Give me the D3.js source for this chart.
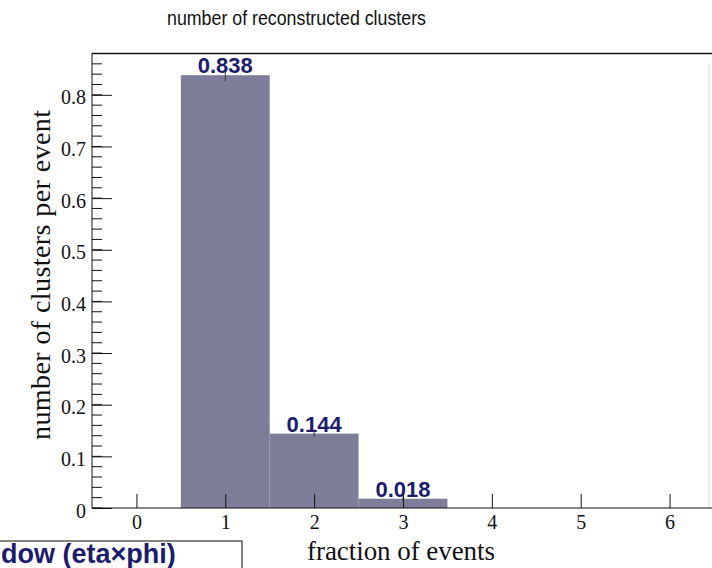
<!DOCTYPE html>
<html lang="en">

<head>
    <meta charset="UTF-8">
    <title>number of reconstructed clusters</title>
    <script src="https://d3js.org/d3.v7.min.js"></script>
    <style>
        body { margin: 0; background: #fff; }
        svg { display: block; }
        .tick text { font-family: "Liberation Serif", "DejaVu Serif", serif; font-size: 20px; fill: #111; }
        .axis path, .axis line { stroke: #111; }
    </style>
</head>

<body>
    <div id="myGraph"></div>

    <script type="text/javascript">

        // bin centers and fraction values
        let bins = [1, 2, 3];
        let values = [0.838, 0.144, 0.018];
        let errors = [0.012, 0.006, 0.004];
        let labels = ["0.838", "0.144", "0.018"];
        let xTicks = [0, 1, 2, 3, 4, 5, 6];
        let yTicks = [0, 0.1, 0.2, 0.3, 0.4, 0.5, 0.6, 0.7, 0.8];

        let width = 712, height = 568;
        let padLeft = 92, padRight = 714, padTop = 53.5, padBottom = 508;

        let svg = d3.select("#myGraph").append("svg")
            .attr("width", width)
            .attr("height", height);

        let x = d3.scaleLinear().domain([-0.5, 6.5]).range([padLeft, padRight]);
        let y = d3.scaleLinear().domain([0, 0.88]).range([padBottom, padTop]);

        // title
        svg.append("text")
            .attr("x", 167).attr("y", 25)
            .attr("textLength", 259)
            .attr("lengthAdjust", "spacingAndGlyphs")
            .style("font-family", "'Liberation Sans', Arial, sans-serif")
            .style("font-size", "20px")
            .style("fill", "#111")
            .text("number of reconstructed clusters");

        // bars
        svg.selectAll("rect.bar")
            .data(values)
            .enter()
            .append("rect")
            .attr("class", "bar")
            .attr("x", (d, i) => x(bins[i] - 0.5))
            .attr("width", (d, i) => x(bins[i] + 0.5) - x(bins[i] - 0.5))
            .attr("y", d => y(d))
            .attr("height", d => padBottom - y(d))
            .style("fill", "#7e7e9b");

        // small error marks
        svg.selectAll("line.err")
            .data(values)
            .enter()
            .append("line")
            .attr("class", "err")
            .attr("x1", (d, i) => x(bins[i]))
            .attr("x2", (d, i) => x(bins[i]))
            .attr("y1", (d, i) => y(d + errors[i]))
            .attr("y2", (d, i) => y(d - errors[i]))
            .style("stroke", "#333")
            .style("stroke-width", 1);

        // frame top + right
        svg.append("line")
            .attr("x1", padLeft).attr("x2", width)
            .attr("y1", padTop).attr("y2", padTop)
            .style("stroke", "#111").style("stroke-width", 1.5);
        svg.append("line")
            .attr("x1", 709).attr("x2", 709)
            .attr("y1", padTop + 10).attr("y2", padBottom)
            .style("stroke", "#ddd").style("stroke-width", 1);

        // y minor ticks
        let yMinor = d3.range(0, 0.87, 0.02);
        svg.selectAll("line.yminor")
            .data(yMinor)
            .enter()
            .append("line")
            .attr("class", "yminor")
            .attr("x1", padLeft).attr("x2", padLeft + 10)
            .attr("y1", d => y(d)).attr("y2", d => y(d))
            .style("stroke", "#111");

        // y axis
        let yAxis = svg.append("g")
            .attr("class", "axis")
            .attr("transform", "translate(" + padLeft + ",0)")
            .call(d3.axisLeft(y).tickValues(yTicks).tickSize(-20).tickPadding(6)
                .tickFormat(d => d === 0 ? "0" : d3.format(".1f")(d)));
        yAxis.select(".domain").attr("d", "M0," + padTop + "V" + padBottom);
        yAxis.selectAll(".tick text").attr("dy", "0.45em");

        // x axis
        let xAxis = svg.append("g")
            .attr("class", "axis")
            .attr("transform", "translate(0," + padBottom + ")")
            .call(d3.axisBottom(x).tickValues(xTicks).tickSize(-14).tickPadding(7).tickFormat(d3.format("d")));
        xAxis.select(".domain").attr("d", "M" + padLeft + ",0H" + width);

        // value labels
        svg.selectAll("text.val")
            .data(values)
            .enter()
            .append("text")
            .attr("class", "val")
            .attr("x", (d, i) => x(bins[i]))
            .attr("y", d => y(d) - 2)
            .attr("text-anchor", "middle")
            .style("font-family", "'Liberation Sans', Arial, sans-serif")
            .style("font-weight", "bold")
            .style("font-size", "22px")
            .style("fill", "#1c1c6c")
            .text((d, i) => labels[i]);

        // axis titles
        svg.append("text")
            .attr("x", 307).attr("y", 560)
            .attr("textLength", 188)
            .style("font-family", "'Liberation Serif', serif")
            .style("font-size", "27px")
            .style("fill", "#111")
            .text("fraction of events");

        svg.append("text")
            .attr("transform", "translate(50,275) rotate(-90)")
            .attr("text-anchor", "middle")
            .attr("textLength", 330)
            .style("font-family", "'Liberation Serif', serif")
            .style("font-size", "28px")
            .style("fill", "#111")
            .text("number of clusters per event");

        // cut-off info box, bottom left
        svg.append("rect")
            .attr("x", -20).attr("y", 541)
            .attr("width", 262).attr("height", 60)
            .style("fill", "#fff")
            .style("stroke", "#333")
            .style("stroke-width", 1.2);
        svg.append("text")
            .attr("x", 1).attr("y", 563)
            .style("font-family", "'Liberation Sans', Arial, sans-serif")
            .style("font-weight", "bold")
            .style("font-size", "27px")
            .style("fill", "#1c1c6c")
            .text("dow (eta×phi)");
    </script>
</body>

</html>
